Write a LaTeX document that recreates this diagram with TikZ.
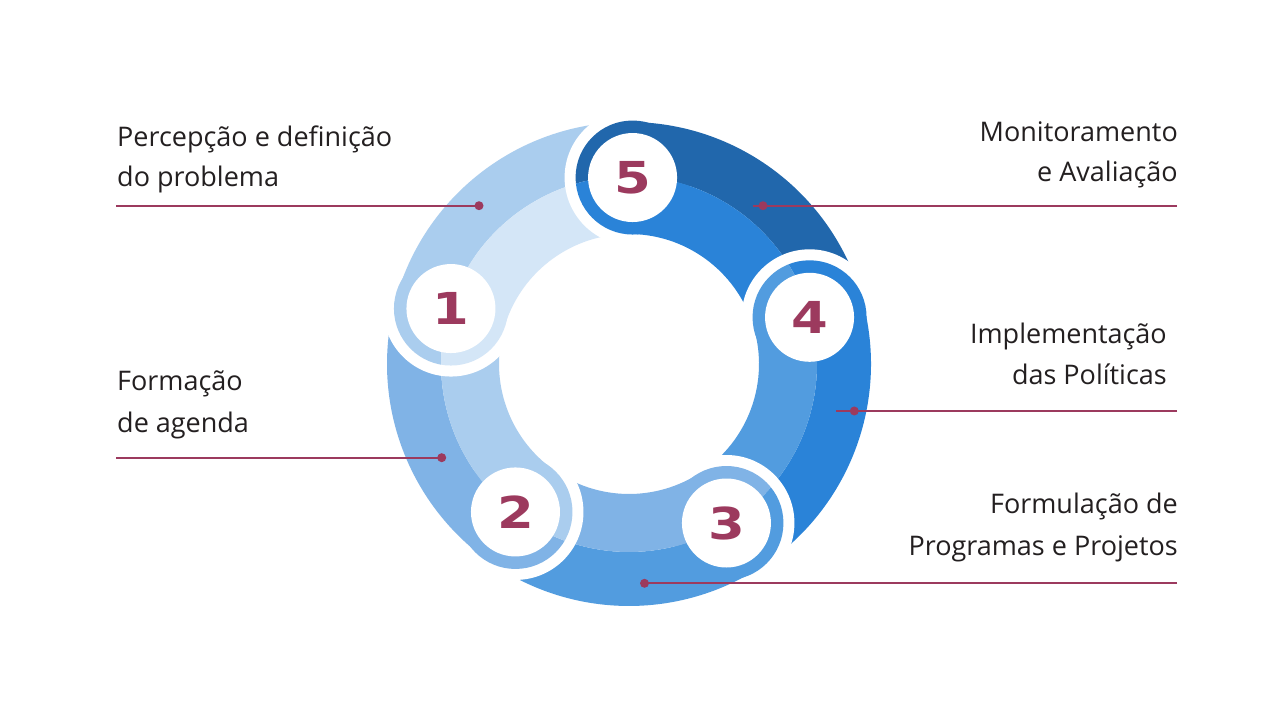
\documentclass[tikz,border=0pt]{standalone}
\usepackage{fontspec}
\setmainfont{Open Sans}
\newfontfamily\numfont{DejaVu Sans}
\definecolor{cA}{HTML}{D4E6F7}
\definecolor{cB}{HTML}{AACDEE}
\definecolor{cC}{HTML}{80B3E6}
\definecolor{cD}{HTML}{529CDF}
\definecolor{cE}{HTML}{2A83D8}
\definecolor{cF}{HTML}{2167AC}
\definecolor{maroon}{HTML}{9C3A5E}
\definecolor{txt}{HTML}{231F20}
\newcommand\ringseg[4]{% start, end, inner colour, outer colour
  \fill[#4] (#1:188) arc[start angle=#1,end angle=#2,radius=188] -- (#2:242) arc[start angle=#2,end angle=#1,radius=242] -- cycle;
  \fill[#3] (#1:130) arc[start angle=#1,end angle=#2,radius=130] -- (#2:188) arc[start angle=#2,end angle=#1,radius=188] -- cycle;
}
\newcommand\ringcap[5]{% angle, inner colour, outer colour, number, name
  \begin{scope}
    \clip (0,0) -- (#1:400) -- ({#1+90}:400) -- cycle;
    \fill[white] (#1:186.5) circle[radius=68];
  \end{scope}
  \begin{scope}
    \clip (0,0) circle[radius=300] (188,0) arc[start angle=0,end angle=-360,radius=188];
    \fill[#3] (#1:186.5) circle[radius=57];
  \end{scope}
  \begin{scope}
    \clip (0,0) circle[radius=188];
    \fill[#2] (#1:186.5) circle[radius=57];
  \end{scope}
  \node[numdisc] (#5) at (#1:186.5) {\scalebox{1.2}[1]{#4}};
}
\tikzset{
  numdisc/.style={circle, fill=white, minimum size=89pt, inner sep=0pt,
    text=maroon, font=\numfont\bfseries\fontsize{44}{44}\selectfont},
  label/.style={inner sep=0pt, text=txt, font=\fontsize{27}{32}\selectfont},
  dot/.style={circle, fill=maroon, minimum size=9pt, inner sep=0pt},
  leader/.style={draw=maroon, line width=2pt}
}
\begin{document}
\begin{tikzpicture}[x=1pt,y=1pt]
\useasboundingbox (0,0) rectangle (1280,720);
\fill[white] (0,0) rectangle (1280,720);

\begin{scope}[shift={(629,356)}]
  \ringseg{162.7}{88.9}{cA}{cB}
  \ringseg{88.9}{14.5}{cE}{cF}
  \ringseg{14.5}{-58.5}{cD}{cE}
  \ringseg{-58.5}{-127.5}{cC}{cD}
  \ringseg{232.5}{162.7}{cB}{cC}
  \ringcap{162.7}{cA}{cB}{1}{n1}
  \ringcap{232.5}{cB}{cC}{2}{n2}
  \ringcap{-58.5}{cC}{cD}{3}{n3}
  \ringcap{14.5}{cD}{cE}{4}{n4}
  \ringcap{88.9}{cE}{cF}{5}{n5}
\end{scope}

% labels
\node[label, anchor=base west] (t1a) at (117,573) {Percepção e definição};
\node[label, anchor=base west] (t1b) at (117,533) {do problema};
\node[label, anchor=base west] (t2a) at (117,329) {Formação};
\node[label, anchor=base west] (t2b) at (117,287) {de agenda};
\node[label, anchor=base east] (t5a) at (1178,578.5) {Monitoramento};
\node[label, anchor=base east] (t5b) at (1178,538) {e Avaliação};
\node[label, anchor=base east] (t4a) at (1167,376) {Implementação};
\node[label, anchor=base east] (t4b) at (1167,335) {das Políticas};
\node[label, anchor=base east] (t3a) at (1178,206) {Formulação de};
\node[label, anchor=base east] (t3b) at (1178,164) {Programas e Projetos};

% leaders
\coordinate (e1) at (116,514.3);
\coordinate (e2) at (116,262.3);
\coordinate (e5) at (1177,514.3);
\coordinate (s5) at (752.7,514.3);
\coordinate (e4) at (1177,309);
\coordinate (s4) at (836,309);
\coordinate (e3) at (1177,136.7);
\node[dot] (d1) at (479,514.3) {};
\node[dot] (d2) at (441.7,262.3) {};
\node[dot] (d5) at (763,514.3) {};
\node[dot] (d4) at (854.3,309) {};
\node[dot] (d3) at (644.5,136.7) {};
\draw[leader] (e1) -- (d1.center);
\draw[leader] (e2) -- (d2.center);
\draw[leader] (e5) -- (s5);
\draw[leader] (e4) -- (s4);
\draw[leader] (e3) -- (d3.center);
\end{tikzpicture}
\end{document}
